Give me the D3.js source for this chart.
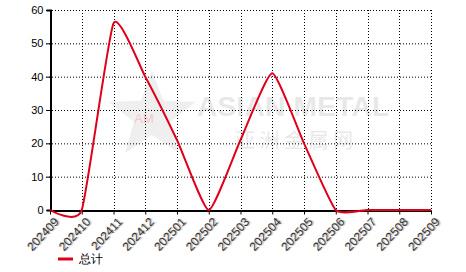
<!DOCTYPE html>
<html>
<head>
<meta charset="utf-8">
<script src="https://cdn.jsdelivr.net/npm/d3@7"></script>
<style>
body { margin: 0; background: #fff; }
svg { display: block; font-family: Arial, "Liberation Sans", sans-serif; }
</style>
</head>
<body>
<svg id="chart" width="466" height="272"></svg>
<script>
'use strict';

var months = ['202409', '202410', '202411', '202412', '202501', '202502', '202503',
	'202504', '202505', '202506', '202507', '202508', '202509'];
var totals = [0, 0, 56, 40, 21, 0, 21, 41, 20, 0, 0, 0, 0];
var yTicks = [0, 10, 20, 30, 40, 50, 60];
var seriesName = '总计';

var svg = d3.select('#chart');
var plotLeft = 50, plotRight = 431, plotTop = 10, plotBottom = 210;

var x = d3.scalePoint().domain(months).range([plotLeft, plotRight]);
var y = d3.scaleLinear().domain([0, 60]).range([plotBottom, plotTop]);

// watermark
var wm = svg.append('g');
var star = d3.range(10).map(function(i) {
	var a = -Math.PI / 2 + i * Math.PI / 5;
	var r = i % 2 ? 19 : 46;
	return [152 + r * Math.cos(a), 116 + r * Math.sin(a)];
});
wm.append('polygon')
	.attr('points', star.map(function(p) { return p.join(','); }).join(' '))
	.attr('fill', '#efefef');
wm.append('text').attr('x', 144).attr('y', 123).attr('text-anchor', 'middle')
	.attr('font-size', 13).attr('fill', '#f8c4ca').text('AM');
wm.append('text').attr('x', 197).attr('y', 116)
	.attr('font-size', 28).attr('font-weight', 'bold').attr('fill', '#e8e8e8')
	.attr('textLength', 192).text('ASIAN METAL');
wm.append('text').attr('x', 235).attr('y', 148)
	.attr('font-size', 20).attr('fill', '#e8e8e8')
	.attr('font-family', '"Noto Sans CJK SC", sans-serif')
	.attr('textLength', 118).text('亚洲金属网');

// grid
svg.append('g').selectAll('line').data(yTicks.slice(1)).enter().append('line')
	.attr('x1', plotLeft - 4).attr('x2', plotRight)
	.attr('y1', function(d) { return y(d) + 0.5; })
	.attr('y2', function(d) { return y(d) + 0.5; })
	.attr('stroke', '#000').attr('stroke-dasharray', '1,2');
svg.append('g').selectAll('line').data(months.slice(1)).enter().append('line')
	.attr('x1', function(d) { return Math.round(x(d)) + 0.5; })
	.attr('x2', function(d) { return Math.round(x(d)) + 0.5; })
	.attr('y1', plotTop).attr('y2', plotBottom)
	.attr('stroke', '#000').attr('stroke-dasharray', '1,2');

// axes
var yAxis = svg.append('g').attr('transform', 'translate(' + (plotLeft + 0.5) + ',0)')
	.call(d3.axisLeft(y).tickValues(yTicks).tickSize(4).tickPadding(3));
var xAxis = svg.append('g').attr('transform', 'translate(0,' + (plotBottom + 0.5) + ')')
	.call(d3.axisBottom(x).tickSize(4).tickSizeOuter(0));
yAxis.select('.domain').attr('stroke', '#000').attr('stroke-width', 2);
xAxis.select('.domain').attr('stroke', '#000').attr('stroke-width', 2);
yAxis.selectAll('text').attr('font-size', 11).attr('fill', '#000');
xAxis.selectAll('.tick line').attr('stroke', '#000');
xAxis.selectAll('text')
	.attr('font-size', 12).attr('fill', '#333')
	.attr('text-anchor', 'end')
	.attr('dy', '0.35em')
	.attr('transform', 'translate(6,9) rotate(-47)')
	.attr('x', 0).attr('y', 0)
	.style('text-shadow', '1px 1px 1px #aaa');

// series
var line = d3.line()
	.x(function(d, i) { return x(months[i]); })
	.y(function(d) { return y(d); })
	.curve(d3.curveCardinal.tension(0.5));
svg.append('path').datum(totals)
	.attr('d', line)
	.attr('fill', 'none')
	.attr('stroke', '#e0001b')
	.attr('stroke-width', 2);

// legend
svg.append('line').attr('x1', 58).attr('x2', 73).attr('y1', 259).attr('y2', 259)
	.attr('stroke', '#e0001b').attr('stroke-width', 3);
svg.append('text').attr('x', 79).attr('y', 263).attr('font-size', 12)
	.attr('fill', '#000').text(seriesName);
</script>
</body>
</html>
